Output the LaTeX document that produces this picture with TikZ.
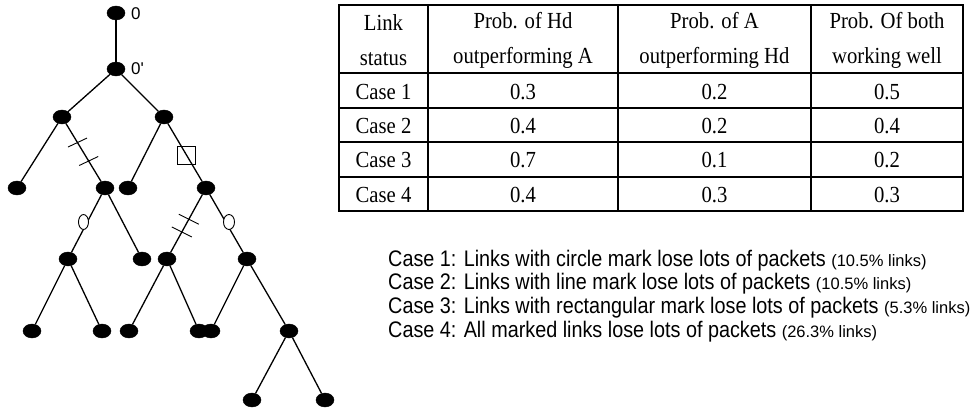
\documentclass[tikz,border=0pt]{standalone}
\usepackage{fontspec}
\usetikzlibrary{shapes.geometric,calc}
\newfontfamily\serifT[FakeStretch=0.9]{Liberation Serif}
\newfontfamily\sansT[FakeStretch=0.88]{Liberation Sans}
\newfontfamily\sansN{Liberation Sans}
\begin{document}
\begin{tikzpicture}[x=1pt,y=-1pt,
  vtx/.style={ellipse,fill=black,draw=black,minimum width=18pt,minimum height=14pt,inner sep=0pt},
  link/.style={line width=1.3pt},
  grid/.style={line width=1.3pt},
  marker/.style={line width=0.9pt},
  lbl/.style={font=\sansN\fontsize{17}{18}\selectfont,anchor=west,inner sep=0pt},
  cell/.style={font=\serifT\fontsize{23}{35}\selectfont,align=center,inner sep=0pt},
  note/.style={font=\sansT\fontsize{22.5}{24}\selectfont,anchor=base west,inner sep=0pt}]
\useasboundingbox (0,0) rectangle (973,411);

% ---------- tree ----------
\node[vtx] (r) at (116,13) {};
\node[vtx] (o) at (116,69) {};
\node[vtx] (a) at (62,117) {};
\node[vtx] (b) at (164,117) {};
\node[vtx] (c) at (17,188) {};
\node[vtx] (d) at (105,188) {};
\node[vtx] (e) at (128,188) {};
\node[vtx] (f) at (206,188) {};
\node[vtx] (g) at (68,259) {};
\node[vtx] (h) at (142,259) {};
\node[vtx] (i) at (167,259) {};
\node[vtx] (j) at (247,259) {};
\node[vtx] (k) at (32,331) {};
\node[vtx] (l) at (102,331) {};
\node[vtx] (m) at (129,331) {};
\node[vtx] (n) at (199,331) {};
\node[vtx] (p) at (211,331) {};
\node[vtx] (q) at (289,331) {};
\node[vtx] (s) at (252,400) {};
\node[vtx] (t) at (325,400) {};

\node[lbl] (lr) at (131,14) {0};
\node[lbl] (lo) at (131,69) {0'};

\foreach \u/\v in {r/o,o/a,o/b,a/c,a/d,b/e,b/f,d/g,d/h,f/i,f/j,g/k,g/l,i/m,i/n,j/p,j/q,q/s,q/t}
  \draw[link] (\u) -- (\v);

% line marks (double hash)
\coordinate (h1) at ($(a)!0.36!(d)$);
\coordinate (h2) at ($(a)!0.62!(d)$);
\draw[marker] ($(h1)+(-9.5,4.5)$) -- ($(h1)+(9.5,-4.5)$);
\draw[marker] ($(h2)+(-9.5,4.5)$) -- ($(h2)+(9.5,-4.5)$);
\coordinate (h3) at ($(f)!0.44!(i)$);
\coordinate (h4) at ($(f)!0.62!(i)$);
\draw[marker] ($(h3)+(-10,-5)$) -- ($(h3)+(10,5)$);
\draw[marker] ($(h4)+(-10,-5)$) -- ($(h4)+(10,5)$);

% rectangular mark
\coordinate (sq) at ($(b)!0.535!(f)$);
\draw[marker] ($(sq)+(-9,-9)$) rectangle ($(sq)+(9,9)$);

% circle marks
\draw[marker,fill=white] (83.5,222) ellipse (5pt and 7.5pt);
\draw[marker,fill=white] (229,222) ellipse (5.5pt and 7.5pt);

% ---------- table ----------
\draw[grid] (339,5) rectangle (963,211);
\foreach \xx in {428,618,811} \draw[grid] (\xx,5) -- (\xx,211);
\foreach \yy in {73,108,142,177} \draw[grid] (339,\yy) -- (963,\yy);

\node[cell] (t00) at (383.5,40.5) {Link\\status};
\node[cell] (t01) at (523,40.5) {Prob. of Hd\\outperforming A};
\node[cell] (t02) at (714.5,40.5) {Prob. of A\\outperforming Hd};
\node[cell] (t03) at (887,40.5) {Prob. Of both\\working well};

\node[cell] (t10) at (383.5,92) {Case 1};
\node[cell] (t11) at (523,92) {0.3};
\node[cell] (t12) at (714.5,92) {0.2};
\node[cell] (t13) at (887,92) {0.5};

\node[cell] (t20) at (383.5,126) {Case 2};
\node[cell] (t21) at (523,126) {0.4};
\node[cell] (t22) at (714.5,126) {0.2};
\node[cell] (t23) at (887,126) {0.4};

\node[cell] (t30) at (383.5,160) {Case 3};
\node[cell] (t31) at (523,160) {0.7};
\node[cell] (t32) at (714.5,160) {0.1};
\node[cell] (t33) at (887,160) {0.2};

\node[cell] (t40) at (383.5,195) {Case 4};
\node[cell] (t41) at (523,195) {0.4};
\node[cell] (t42) at (714.5,195) {0.3};
\node[cell] (t43) at (887,195) {0.3};

% ---------- case notes ----------
\newcommand\pct[1]{\sansN\fontsize{16.5}{18}\selectfont #1}
\node[note] (c1) at (388,266) {Case 1: Links with circle mark lose lots of packets \pct{(10.5\% links)}};
\node[note] (c2) at (388,290) {Case 2: Links with line mark lose lots of packets \pct{(10.5\% links)}};
\node[note] (c3) at (388,313) {Case 3: Links with rectangular mark lose lots of packets \pct{(5.3\% links)}};
\node[note] (c4) at (388,337) {Case 4: All marked links lose lots of packets \pct{(26.3\% links)}};
\end{tikzpicture}
\end{document}
